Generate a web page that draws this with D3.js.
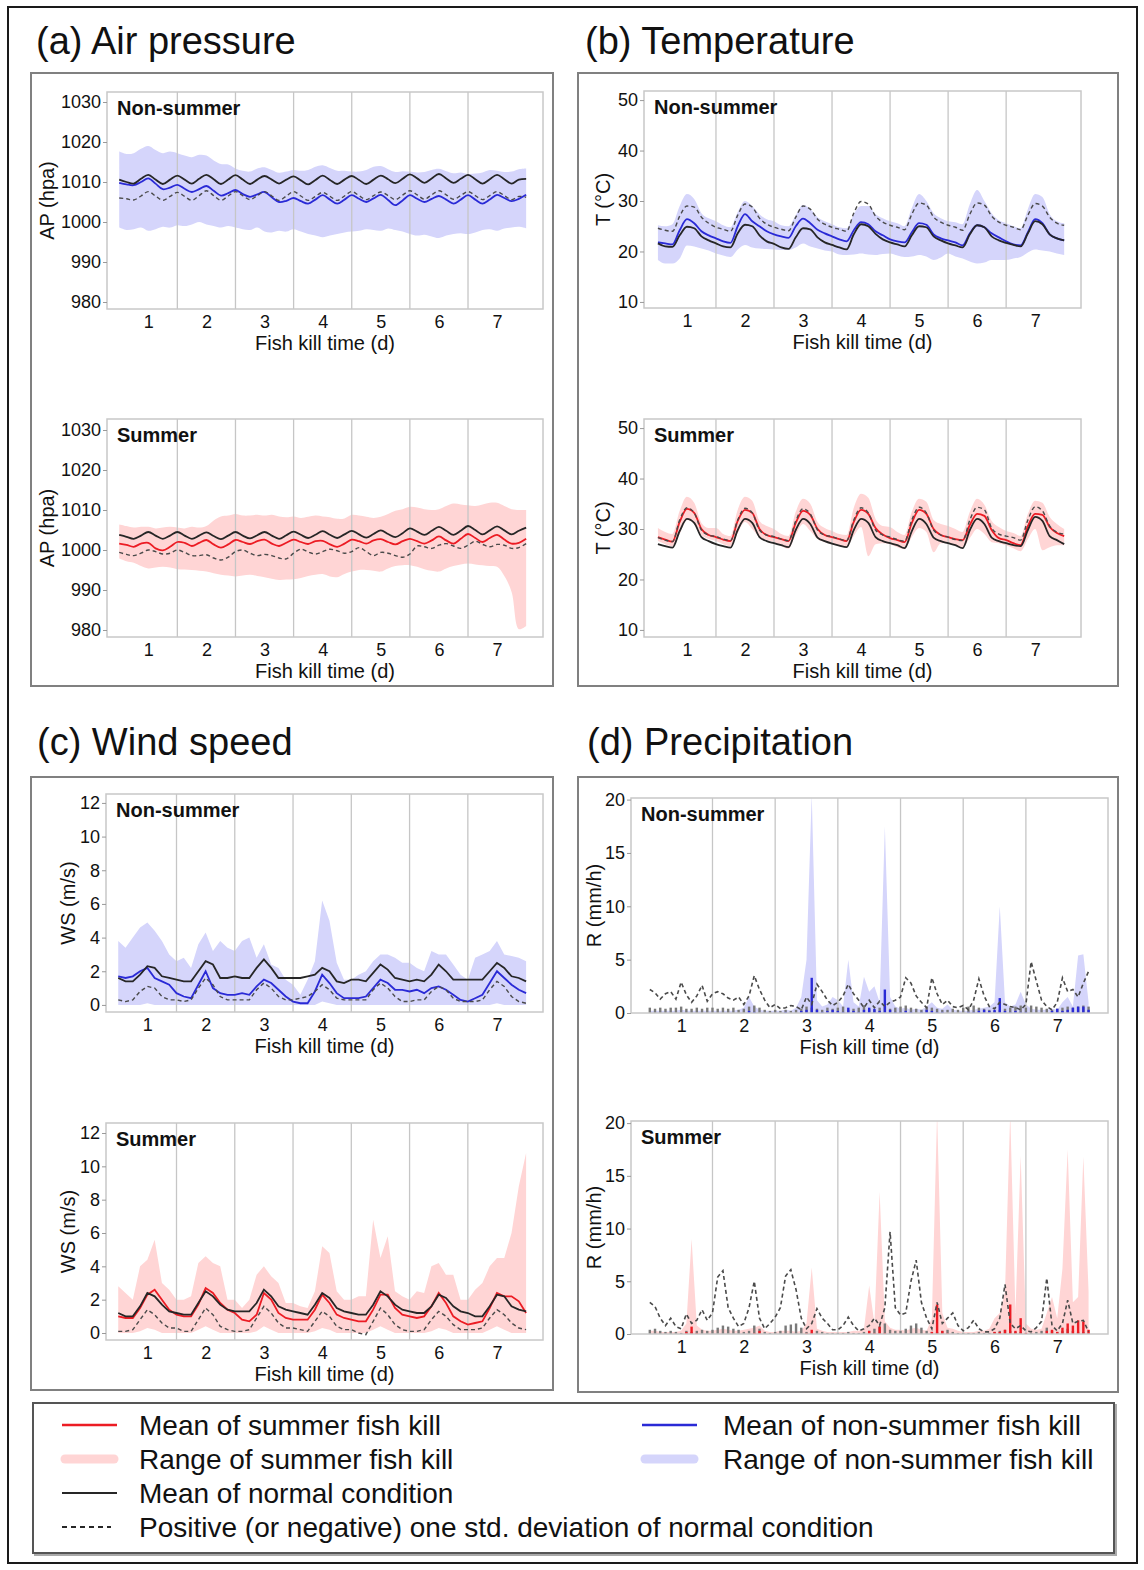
<!DOCTYPE html>
<html>
<head>
<meta charset="utf-8">
<script src="https://cdn.jsdelivr.net/npm/d3@7"></script>
<style>
  body { margin: 0; background: #fff; }
  svg { display: block; font-family: "Liberation Sans", Arial, sans-serif; }
</style>
</head>
<body>
<svg id="fig" width="1144" height="1570"></svg>
<script>
// ---- axis values ----
const dayTicks = [1, 2, 3, 4, 5, 6, 7];
const dayBounds = [1.5, 2.5, 3.5, 4.5, 5.5, 6.5];
const apTicks = [980, 990, 1000, 1010, 1020, 1030];
const tTicks = [10, 20, 30, 40, 50];
const wsTicks = [0, 2, 4, 6, 8, 10, 12];
const rTicks = [0, 5, 10, 15, 20];
const startDay = 0.5;     // first sample sits at day 0.5
const lineStep = 3;       // hours between samples (AP, T, WS)
const rainStep = 2;       // hours between samples (R)

// ---- air pressure, non-summer ----
const apNonNormal = [
  1010.6,1010.0,1009.6,1010.8,1011.8,1010.6,1009.5,1010.6,
  1011.6,1010.6,1009.6,1010.8,1011.8,1010.7,1009.5,1010.6,
  1011.7,1010.6,1009.5,1010.6,1011.5,1010.6,1009.6,1010.6,
  1011.4,1010.4,1009.4,1010.5,1011.6,1010.5,1009.5,1010.6,
  1011.5,1010.5,1009.5,1010.6,1011.6,1010.7,1009.7,1010.8,
  1011.9,1010.9,1009.8,1010.9,1012.0,1010.9,1009.8,1010.8,
  1011.8,1010.7,1009.6,1010.7,1011.8,1010.7,1009.6,1010.6,
  1010.8];
const apNonMean = [
  1009.8,1009.4,1009.2,1010.0,1010.9,1009.6,1008.2,1008.6,
  1009.3,1008.3,1007.5,1008.2,1009.0,1007.8,1006.6,1007.2,
  1008.0,1007.0,1006.3,1006.9,1007.5,1006.2,1005.0,1005.3,
  1006.0,1005.2,1004.6,1005.6,1006.7,1005.6,1004.6,1005.6,
  1006.7,1005.8,1005.0,1005.9,1006.8,1005.5,1004.2,1005.4,
  1006.7,1005.8,1005.0,1005.8,1006.5,1005.6,1004.6,1005.6,
  1006.7,1005.6,1004.6,1005.6,1006.8,1006.0,1005.2,1005.8,
  1006.8];
const apNonStd = [
  1006.0,1005.8,1005.5,1006.5,1007.6,1006.5,1005.4,1006.4,
  1007.4,1006.4,1005.4,1006.6,1007.8,1006.6,1005.4,1006.5,
  1007.6,1006.6,1005.6,1006.6,1007.6,1006.5,1005.4,1006.5,
  1007.6,1006.5,1005.4,1006.4,1007.4,1006.4,1005.4,1006.5,
  1007.6,1006.6,1005.6,1006.6,1007.5,1006.6,1005.6,1006.7,
  1007.8,1006.8,1005.7,1006.8,1007.8,1006.8,1005.7,1006.6,
  1007.6,1006.6,1005.6,1006.6,1007.6,1006.6,1005.6,1006.4,
  1006.2];
const apNonMax = [
  1017.6,1017.0,1017.2,1018.3,1019.0,1018.0,1017.2,1017.6,
  1017.2,1016.6,1016.2,1016.8,1016.6,1015.4,1014.5,1014.4,
  1013.4,1012.8,1012.6,1013.4,1013.7,1013.0,1012.3,1012.6,
  1013.0,1012.8,1013.0,1013.8,1014.2,1013.5,1012.8,1012.8,
  1012.6,1012.6,1013.0,1013.8,1014.0,1013.2,1012.5,1012.7,
  1012.6,1012.4,1012.5,1013.0,1013.3,1012.7,1012.2,1012.4,
  1012.0,1012.1,1012.4,1013.0,1012.8,1012.5,1012.6,1013.2,
  1013.4];
const apNonMin = [
  998.6,998.0,998.2,998.6,997.8,998.2,998.8,998.6,
  999.2,999.0,999.4,1000.0,999.4,999.0,998.6,999.0,
  998.6,998.2,998.0,998.6,997.6,997.4,997.8,997.6,
  998.2,997.6,997.0,996.6,996.2,996.6,997.0,997.4,
  997.6,997.8,998.2,998.0,997.8,998.4,998.0,997.6,
  997.0,996.6,996.8,996.4,996.0,996.6,997.0,997.2,
  997.0,997.4,998.0,998.2,997.8,998.4,998.6,998.8,
  998.4];

// ---- air pressure, summer ----
const apSumNormal = [
  1003.8,1003.3,1002.8,1003.6,1004.5,1003.6,1002.8,1003.6,
  1004.5,1003.6,1002.8,1003.6,1004.4,1003.5,1002.7,1003.6,
  1004.5,1003.6,1002.9,1003.7,1004.5,1003.6,1002.8,1003.7,
  1004.6,1003.8,1003.0,1003.8,1004.7,1003.8,1003.0,1003.9,
  1004.8,1003.9,1003.1,1004.0,1004.9,1004.0,1003.2,1004.2,
  1005.4,1004.6,1003.8,1004.8,1005.8,1004.8,1003.8,1004.8,
  1006.0,1005.0,1003.9,1004.9,1005.9,1004.9,1003.9,1004.8,
  1005.6];
const apSumMean = [
  1001.6,1001.3,1000.8,1001.6,1001.8,1000.4,999.9,1000.8,
  1002.0,1001.8,1001.0,1001.8,1002.5,1001.4,1000.6,1001.4,
  1002.5,1002.0,1001.5,1002.2,1002.6,1001.6,1001.0,1001.8,
  1002.6,1002.0,1001.5,1002.2,1002.3,1001.4,1000.8,1001.6,
  1002.6,1002.2,1001.6,1002.4,1002.7,1002.0,1001.4,1002.2,
  1002.8,1002.2,1001.6,1002.4,1003.4,1002.4,1001.6,1002.8,
  1004.0,1003.0,1002.0,1003.0,1003.8,1002.6,1001.6,1001.8,
  1002.8];
const apSumStd = [
  999.4,998.9,998.6,999.2,1000.0,999.6,999.0,999.2,
  1000.0,999.4,998.6,998.6,998.8,998.0,997.5,998.2,
  999.6,1000.0,999.2,998.6,998.9,998.6,998.0,997.8,
  999.2,1000.2,999.5,999.0,999.6,1000.2,999.8,999.2,
  999.6,1000.6,999.6,998.6,999.4,999.2,998.6,998.2,
  999.0,1001.0,1000.8,1000.4,1001.2,1001.6,1001.0,1000.4,
  1001.2,1002.2,1001.4,1000.8,1001.4,1001.2,1000.4,1000.6,
  1001.6];
const apSumMax = [
  1006.4,1006.0,1005.6,1005.8,1005.8,1005.4,1005.6,1005.8,
  1005.6,1005.4,1005.8,1005.6,1006.0,1007.4,1008.4,1008.6,
  1009.0,1008.6,1008.6,1008.8,1008.6,1008.8,1008.4,1008.2,
  1008.4,1008.0,1008.3,1008.6,1008.4,1008.2,1007.8,1007.9,
  1008.8,1008.6,1008.3,1008.0,1008.3,1009.0,1009.8,1010.2,
  1010.8,1010.6,1010.2,1010.0,1010.2,1011.0,1011.6,1011.4,
  1011.2,1011.0,1011.4,1011.8,1011.8,1011.0,1010.2,1010.0,
  1010.0];
const apSumMin = [
  997.9,997.2,996.8,996.0,995.4,995.6,995.8,995.6,
  995.2,995.1,995.0,994.8,994.6,994.2,993.8,993.6,
  993.4,993.6,993.8,993.5,993.2,992.8,992.5,992.6,
  992.7,993.0,993.5,993.8,994.0,993.4,993.2,994.0,
  994.6,995.0,995.0,994.8,994.6,995.4,996.0,996.2,
  996.2,995.8,995.2,994.8,994.6,995.4,996.0,996.4,
  996.6,996.4,996.2,996.0,995.8,993.5,989.5,980.2,
  981.0];

// ---- temperature, non-summer ----
const tNonNormal = [
  21.6,21.0,20.9,23.2,24.9,24.6,23.0,22.2,
  21.6,21.0,20.8,23.6,25.3,25.0,23.2,22.0,
  21.5,20.8,20.5,22.8,24.6,24.4,22.8,21.8,
  21.3,20.8,20.4,23.4,25.4,25.0,23.5,22.4,
  21.8,21.4,21.0,23.2,25.0,24.8,23.0,22.2,
  21.6,21.2,20.8,23.4,25.2,24.8,23.0,22.2,
  21.7,21.3,21.0,23.6,26.0,25.4,23.4,22.6,
  22.2];
const tNonMean = [
  21.8,21.6,21.4,24.2,26.4,25.6,24.0,23.2,
  22.6,22.0,21.7,25.0,27.4,26.0,25.0,24.0,
  23.4,23.0,22.7,25.0,26.5,25.6,24.3,23.6,
  23.0,22.4,22.0,24.2,25.8,25.4,24.0,23.2,
  22.4,22.0,21.8,23.8,25.6,25.3,23.4,22.6,
  22.2,21.8,21.2,23.6,25.2,24.8,23.6,22.8,
  22.0,21.4,21.2,23.8,26.4,25.6,23.4,22.6,
  22.2];
const tNonStd = [
  24.6,24.2,24.0,27.0,29.0,28.8,26.8,25.6,
  24.8,24.4,24.0,27.2,29.4,28.8,26.6,25.4,
  24.8,24.4,24.1,26.8,29.0,28.4,26.4,25.4,
  24.8,24.4,24.0,27.6,29.9,29.4,27.0,25.8,
  25.2,24.8,24.3,27.4,29.6,29.2,26.8,25.8,
  25.2,24.8,24.2,27.4,29.6,29.2,27.0,25.8,
  25.2,24.8,24.3,27.2,29.5,29.0,26.8,25.6,
  25.2];
const tNonMax = [
  25.2,25.0,25.4,29.0,31.4,30.4,27.6,26.6,
  26.0,25.2,24.8,27.8,30.0,29.0,27.4,26.4,
  26.0,25.2,25.0,27.2,29.2,28.4,26.8,26.0,
  25.4,24.8,24.6,27.4,29.0,29.0,27.4,26.6,
  26.0,25.6,25.0,28.6,31.4,30.0,27.6,26.6,
  26.0,25.8,25.4,29.4,32.2,30.0,27.6,26.2,
  25.6,25.0,24.6,28.4,31.4,30.8,27.4,26.0,
  25.6];
const tNonMin = [
  18.3,17.6,17.6,18.6,21.2,21.0,20.6,20.2,
  19.6,19.2,18.9,20.4,21.3,20.8,20.6,20.5,
  20.4,20.3,20.3,20.8,21.6,21.0,20.6,20.2,
  20.0,19.4,19.3,19.4,19.6,19.4,19.3,19.5,
  19.6,19.2,18.9,19.0,19.3,19.0,18.3,18.8,
  19.6,19.0,18.6,18.0,17.6,17.8,18.3,18.3,
  18.3,18.6,18.9,19.8,20.4,20.2,20.0,19.6,
  19.3];

// ---- temperature, summer ----
const tSumNormal = [
  27.0,26.6,26.3,29.6,32.0,31.2,28.4,27.6,
  27.0,26.6,26.3,29.8,32.0,31.2,28.4,27.6,
  27.2,26.8,26.4,29.8,32.0,31.0,28.3,27.6,
  27.1,26.7,26.4,29.8,32.0,31.2,28.4,27.6,
  27.2,26.8,26.2,29.6,32.0,31.0,28.3,27.6,
  27.2,26.8,26.2,29.8,32.0,31.0,28.3,27.6,
  27.2,26.8,26.6,29.8,32.4,31.6,28.6,27.8,
  27.0];
const tSumMean = [
  28.4,27.9,27.5,31.4,34.0,33.2,30.0,28.8,
  28.4,27.9,27.6,31.6,33.8,33.2,30.0,28.8,
  28.4,28.0,27.6,31.2,33.6,32.8,30.0,28.8,
  28.4,28.0,27.6,31.4,33.8,33.0,30.2,28.9,
  28.2,27.8,27.4,31.2,33.8,33.0,30.0,28.8,
  28.4,28.0,27.8,30.8,33.0,32.6,29.8,28.2,
  27.8,27.2,26.8,30.6,33.0,32.8,30.4,29.2,
  28.6];
const tSumStd = [
  28.3,27.8,27.5,31.8,34.2,33.2,29.8,28.8,
  28.5,28.0,27.7,31.8,34.1,33.2,29.8,28.8,
  28.5,28.0,27.7,31.6,34.0,33.0,29.8,28.8,
  28.5,28.0,27.7,31.8,34.2,33.2,29.8,28.8,
  28.4,27.9,27.6,31.8,34.3,33.2,29.8,28.8,
  28.4,27.9,27.7,31.8,34.3,33.8,30.2,29.0,
  28.6,28.3,27.8,31.8,34.4,33.6,30.6,29.4,
  29.0];
const tSumMax = [
  30.2,29.4,29.0,33.6,36.4,35.2,31.2,30.2,
  30.2,29.0,28.6,33.8,36.4,35.6,31.6,30.6,
  30.0,29.0,28.6,33.4,36.0,35.0,31.4,30.2,
  29.6,29.0,28.8,34.2,37.0,36.2,32.0,30.6,
  30.4,29.4,28.8,33.4,36.0,35.4,31.8,31.0,
  30.6,30.0,29.4,33.4,36.0,34.8,31.6,30.4,
  29.6,29.2,28.6,33.0,35.6,35.2,32.4,31.0,
  30.0];
const tSumMin = [
  27.6,27.0,26.6,29.0,31.8,31.0,28.8,28.0,
  27.6,27.0,26.6,29.2,31.4,30.0,28.4,27.8,
  27.4,26.6,26.1,28.8,31.0,29.6,28.0,27.4,
  27.0,26.6,26.4,28.6,30.4,24.6,27.0,27.2,
  27.0,26.4,26.0,28.4,30.2,29.4,25.4,27.2,
  27.2,26.8,26.4,28.2,30.0,29.0,27.4,27.2,
  26.8,26.2,25.6,28.0,30.0,25.8,26.4,26.8,
  26.8];

// ---- wind speed, non-summer ----
const wsNonNormal = [
  1.6,1.4,1.4,1.8,2.3,2.2,1.7,1.6,
  1.5,1.4,1.4,2.0,2.6,2.4,1.6,1.6,
  1.7,1.6,1.6,2.2,2.7,2.2,1.6,1.6,
  1.6,1.6,1.7,1.8,2.2,2.0,1.4,1.3,
  1.5,1.5,1.4,1.9,2.4,2.1,1.6,1.5,
  1.4,1.5,1.4,1.8,2.4,2.0,1.5,1.5,
  1.5,1.5,1.5,2.0,2.5,2.2,1.7,1.6,
  1.4];
const wsNonMean = [
  1.7,1.6,1.7,2.0,2.2,1.6,1.4,1.2,
  0.7,0.5,0.4,1.2,2.0,1.0,0.7,0.6,
  0.6,0.7,0.6,1.1,1.5,1.3,0.9,0.5,
  0.2,0.1,0.1,0.8,1.8,1.3,0.7,0.4,
  0.4,0.4,0.5,1.0,1.5,1.3,0.9,0.9,
  0.8,0.9,0.7,1.0,1.1,0.9,0.6,0.3,
  0.2,0.4,0.6,1.3,2.0,1.6,1.2,0.9,
  0.7];
const wsNonStd = [
  0.3,0.2,0.3,0.8,1.1,1.0,0.5,0.3,
  0.3,0.2,0.3,1.0,1.6,1.2,0.5,0.3,
  0.3,0.3,0.3,0.9,1.3,1.0,0.5,0.3,
  0.3,0.4,0.5,0.8,1.2,0.9,0.4,0.3,
  0.3,0.3,0.3,0.9,1.3,1.0,0.5,0.2,
  0.2,0.3,0.3,0.8,1.1,0.9,0.4,0.2,
  0.2,0.2,0.3,0.9,1.4,1.1,0.5,0.2,
  0.1];
const wsNonMax = [
  3.8,3.4,4.0,4.6,4.9,4.4,3.8,3.0,
  2.6,2.8,2.2,3.6,4.3,3.2,3.8,3.4,
  3.2,3.8,4.0,2.8,3.6,2.4,2.2,1.5,
  1.2,0.6,1.5,2.6,6.2,5.0,2.5,1.5,
  1.5,1.8,2.0,2.6,3.0,3.0,2.8,2.5,
  2.5,2.2,2.0,3.2,3.0,3.0,2.4,1.8,
  1.5,2.8,3.0,3.2,3.8,3.0,2.9,2.8,
  2.6];
const wsNonMin = [
  0,0,0,0,0.1,0,0,0,
  0,0,0,0,0,0,0,0,
  0,0,0,0,0,0,0,0,
  0,0,0,0,0.2,0.1,0,0,
  0,0,0,0,0,0,0,0,
  0,0,0,0,0,0,0,0,
  0,0,0,0,0.1,0,0,0,
  0];

// ---- wind speed, summer ----
const wsSumNormal = [
  1.2,1.0,1.0,1.6,2.4,2.2,1.7,1.3,
  1.2,1.1,1.1,1.8,2.5,2.2,1.7,1.4,
  1.3,1.3,1.3,1.8,2.6,2.2,1.6,1.4,
  1.3,1.2,1.1,1.7,2.4,2.1,1.5,1.3,
  1.2,1.1,1.1,1.7,2.5,2.2,1.7,1.4,
  1.3,1.2,1.2,1.6,2.3,2.1,1.6,1.3,
  1.2,1.0,1.0,1.6,2.3,2.2,1.6,1.4,
  1.3];
const wsSumMean = [
  1.0,0.9,0.9,1.5,2.3,2.6,2.0,1.4,
  1.1,1.0,1.0,1.7,2.7,2.4,1.8,1.4,
  1.2,0.8,0.7,1.1,2.4,2.0,1.2,0.9,
  0.8,0.8,0.8,1.4,2.3,1.8,1.1,0.9,
  0.8,0.7,0.7,1.4,2.3,2.3,1.5,1.1,
  1.0,0.9,1.0,1.6,2.4,1.8,1.0,0.7,
  0.5,0.6,0.7,1.5,2.4,2.2,2.2,1.9,
  1.2];
const wsSumStd = [
  0.1,0.1,0.2,0.8,1.4,1.1,0.6,0.3,
  0.3,0.1,0.1,0.8,1.5,1.1,0.4,0.2,
  0.1,0.1,0.2,0.9,1.6,1.2,0.6,0.3,
  0.3,0.2,0.1,0.7,1.3,1.0,0.4,0.2,
  0.2,0.0,-0.1,0.7,1.5,1.1,0.5,0.2,
  0.1,0.1,0.2,0.8,1.3,1.0,0.5,0.2,
  0.2,0.2,0.3,0.9,1.4,1.1,0.6,0.3,
  0.2];
const wsSumMax = [
  2.8,2.4,2.0,4.0,4.4,5.6,3.0,2.6,
  2.0,2.0,2.2,4.2,4.6,4.2,4.0,2.0,
  2.0,1.5,2.0,3.5,4.0,3.4,3.0,1.8,
  1.8,1.6,1.5,2.5,5.2,4.8,2.5,2.0,
  2.0,2.2,2.2,6.8,4.5,5.8,2.5,2.2,
  2.0,2.5,2.4,4.0,4.2,3.5,3.5,2.0,
  2.0,2.6,3.0,4.0,4.5,4.5,6.0,8.8,
  10.8];
const wsSumMin = [
  0,0,0,0.1,0.3,0.2,0,0,
  0,0,0,0.2,0.4,0.2,0,0,
  0,0,0,0.1,0.4,0.2,0,0,
  0,0,0,0.1,0.3,0.2,0,0,
  0,0,0,0.2,0.4,0.2,0,0,
  0,0,0,0.1,0.3,0.2,0,0,
  0,0,0,0.2,0.4,0.2,0,0,
  0];

// ---- precipitation, non-summer (2-hourly) ----
const rNonMax = [
  0.2,0.2,0.2,0.2,0.2,0.2,0.3,0.2,0.2,0.2,0.2,0.2,
  0.2,0.2,0.2,0.2,0.2,0.3,0.5,1.5,0.6,0.3,0.2,0.2,
  0.2,0.2,0.3,0.2,0.5,1.5,5.0,20.5,1.2,0.6,0.8,1.5,
  1.2,0.6,5.0,1.0,0.6,3.4,2.0,2.5,1.0,17.5,1.5,0.6,
  0.4,0.5,0.3,0.4,0.3,0.6,1.0,0.5,0.4,0.8,0.3,0.2,
  0.2,0.2,0.3,0.4,0.5,0.6,1.0,10.0,1.0,0.6,0.8,2.0,
  0.8,0.4,0.3,0.3,0.3,0.4,0.3,1.0,1.5,0.6,5.4,5.5,
  1.0];
const rNonStd = [
  2.2,1.9,1.3,1.8,2.0,1.3,2.9,1.7,1.0,1.6,2.6,1.1,
  1.8,2.0,1.8,1.4,1.2,1.5,0.8,1.6,3.5,2.2,1.2,0.5,
  0.8,0.4,0.5,0.7,0.6,0.3,1.5,0.8,2.7,2.0,1.2,0.7,
  1.0,1.6,2.7,1.8,1.2,0.5,1.2,0.5,1.1,0.6,1.0,1.2,
  1.5,3.3,2.8,1.6,1.0,0.5,3.3,1.8,0.8,1.2,0.6,0.5,
  0.7,0.3,1.2,3.2,1.6,0.6,0.4,1.0,0.8,0.6,0.5,0.3,
  0.8,4.8,3.0,1.2,0.6,0.3,1.0,3.3,2.0,2.2,1.5,2.8,
  3.9];
const rNonNormal = [
  0.5,0.4,0.5,0.4,0.5,0.5,0.6,0.4,0.4,0.5,0.4,0.5,
  0.5,0.4,0.5,0.4,0.5,0.3,0.4,0.6,0.7,0.5,0.3,0.2,
  0.3,0.2,0.3,0.2,0.3,0.4,0.6,0.5,0.4,0.3,0.5,0.4,
  0.5,0.6,0.3,0.4,0.5,0.7,0.4,0.3,0.5,0.6,0.4,0.5,
  0.6,0.7,0.5,0.4,0.3,0.6,0.5,0.4,0.3,0.3,0.4,0.3,
  0.5,0.6,0.7,0.5,0.4,0.3,0.2,0.3,0.4,0.5,0.6,0.7,
  0.5,0.7,0.6,0.5,0.4,0.3,0.4,0.5,0.6,0.5,0.6,0.7,
  0.6];
const rNonMean = [
  0,0,0,0,0,0,0,0,0,0,0,0,
  0,0,0,0,0,0,0,0.2,0.1,0,0,0,
  0,0,0.1,0,0,0.2,0.3,3.3,0.3,0.1,0.2,0.3,
  0.2,0.1,0.5,0.2,0.1,0.3,0.5,0.4,0.2,2.2,0.3,0.1,
  0.1,0.2,0.1,0,0.1,0.3,0.2,0.1,0.1,0,0,0,
  0,0.1,0.1,0.2,0.3,0.2,0.3,1.4,0.2,0.1,0.2,0.1,
  0.1,0,0,0,0,0.2,0.4,0.2,0.3,0.5,0.6,0.6,
  0.3];

// ---- precipitation, summer (2-hourly) ----
const rSumMax = [
  0.3,0.3,0.2,0.2,0.2,0.2,0.3,1.0,9.0,0.8,0.4,0.3,
  0.3,0.4,0.5,0.4,0.3,0.3,0.4,0.5,0.6,0.8,0.3,0.2,
  0.2,0.3,0.3,0.3,0.2,0.3,1.0,6.3,0.5,0.3,0.2,0.2,
  0.2,0.2,0.2,0.3,0.3,0.5,4.6,1.0,13.5,1.2,0.6,0.4,
  0.4,0.3,0.5,0.6,0.4,0.3,1.5,21.0,2.0,0.6,0.5,0.3,
  0.2,0.2,0.2,0.3,0.3,0.5,1.5,2.0,4.0,21.0,2.0,16.9,
  1.0,0.5,0.4,0.5,2.0,3.5,1.5,6.2,17.5,3.0,3.5,16.8,
  4.0];
const rSumStd = [
  3.0,2.6,1.5,0.8,1.5,0.7,0.5,1.9,1.0,1.3,2.3,1.3,
  2.0,5.4,6.0,2.5,1.5,0.7,1.0,2.5,5.0,1.5,0.5,1.0,
  1.6,2.5,5.5,6.1,4.2,1.5,0.5,1.0,2.4,1.5,1.0,0.4,
  0.4,0.8,1.6,0.8,0.3,0.5,0.8,1.5,0.8,2.5,9.7,2.5,
  1.8,2.0,5.0,7.0,3.0,1.5,0.5,3.0,1.0,1.5,2.0,0.8,
  0.3,0.6,1.3,0.5,0.2,0.2,0.5,1.5,4.7,1.0,0.5,0.8,
  0.3,0.2,0.6,1.2,5.3,0.8,0.3,1.0,3.2,1.0,1.2,1.3,
  0.2];
const rSumNormal = [
  0.4,0.5,0.3,0.2,0.3,0.2,0.1,0.3,0.2,0.3,0.4,0.3,
  0.4,0.6,0.8,0.7,0.5,0.4,0.2,0.3,0.8,0.5,0.2,0.1,
  0.2,0.3,0.8,0.9,1.0,0.6,0.2,0.1,0.3,0.2,0.1,0.1,
  0.1,0.1,0.2,0.1,0.1,0.2,0.3,0.5,0.7,1.0,0.4,0.3,
  0.3,0.5,0.8,1.0,0.6,0.3,0.2,0.2,0.3,0.4,0.2,0.1,
  0.1,0.1,0.1,0.2,0.1,0.1,0.2,0.3,0.4,0.3,0.2,0.2,
  0.1,0.1,0.2,0.3,0.6,0.3,0.2,0.3,0.5,0.3,0.2,0.2,
  0.1];
const rSumMean = [
  0,0,0,0,0,0,0,0.2,0.7,0.1,0,0,
  0,0,0,0,0,0,0,0,0.1,0.3,0,0,
  0,0,0,0,0,0,0.1,0.4,0,0,0,0,
  0,0,0,0,0,0,0.3,0.1,0.7,0.1,0,0,
  0,0,0,0,0,0,0.2,2.8,0.3,0.1,0,0,
  0,0,0,0,0,0,0.2,0.2,0.4,2.8,0.3,1.5,
  0.1,0,0,0,0.3,0.4,0.2,0.6,1.0,0.8,1.3,1.2,
  0.4];

// ---- styling ----
const seasonStyle = {
  non: { line: "#2a2ad6", band: "#d5d5fb" },
  sum: { line: "#ec1c24", band: "#ffd5d5" }
};
const normalColor = "#262626";
const stdColor = "#4a4a4a";
const curves = {
  wave: d3.curveCatmullRom.alpha(0.5),
  smooth: d3.curveMonotoneX,
  raw: d3.curveLinear
};

const svg = d3.select("#fig");

// outer frame and the four panel boxes
svg.append("rect")
  .attr("x", 8).attr("y", 7).attr("width", 1129).attr("height", 1556)
  .attr("fill", "none").attr("stroke", "#1a1a1a").attr("stroke-width", 2);

const boxes = [
  { x: 31, y: 73, w: 522, h: 613 },
  { x: 578, y: 73, w: 540, h: 613 },
  { x: 31, y: 777, w: 522, h: 613 },
  { x: 578, y: 777, w: 540, h: 615 }
];
svg.selectAll(".panel-box").data(boxes).join("rect")
  .attr("class", "panel-box")
  .attr("x", d => d.x).attr("y", d => d.y)
  .attr("width", d => d.w).attr("height", d => d.h)
  .attr("fill", "none").attr("stroke", "#808080").attr("stroke-width", 2);

const titles = [
  { text: "(a) Air pressure", x: 36, y: 54 },
  { text: "(b) Temperature", x: 585, y: 54 },
  { text: "(c) Wind speed", x: 37, y: 755 },
  { text: "(d) Precipitation", x: 587, y: 755 }
];
svg.selectAll(".panel-title").data(titles).join("text")
  .attr("class", "panel-title")
  .attr("x", d => d.x).attr("y", d => d.y)
  .attr("font-size", 38).attr("fill", "#111")
  .text(d => d.text);

const panels = [
  { id: "a1", left: 107, top: 92, width: 436, height: 217, xDomain: [0.29, 7.79], yDomain: [978.25, 1032.5],
    yTicks: apTicks, yTitle: "AP (hpa)", yTitleDx: -60, tag: "Non-summer", season: "non", kind: "line", curve: "wave",
    mean: apNonMean, normal: apNonNormal, std: apNonStd, lo: apNonMin, hi: apNonMax },
  { id: "a2", left: 107, top: 419, width: 436, height: 218, xDomain: [0.29, 7.79], yDomain: [978.25, 1032.75],
    yTicks: apTicks, yTitle: "AP (hpa)", yTitleDx: -60, tag: "Summer", season: "sum", kind: "line", curve: "wave",
    mean: apSumMean, normal: apSumNormal, std: apSumStd, lo: apSumMin, hi: apSumMax },
  { id: "b1", left: 644, top: 91, width: 437, height: 217, xDomain: [0.26, 7.79], yDomain: [8.8, 51.8],
    yTicks: tTicks, yTitle: "T (°C)", yTitleDx: -41, tag: "Non-summer", season: "non", kind: "line", curve: "smooth",
    mean: tNonMean, normal: tNonNormal, std: tNonStd, lo: tNonMin, hi: tNonMax },
  { id: "b2", left: 644, top: 419, width: 437, height: 218, xDomain: [0.26, 7.79], yDomain: [8.6, 51.8],
    yTicks: tTicks, yTitle: "T (°C)", yTitleDx: -41, tag: "Summer", season: "sum", kind: "line", curve: "smooth",
    mean: tSumMean, normal: tSumNormal, std: tSumStd, lo: tSumMin, hi: tSumMax },
  { id: "c1", left: 106, top: 794, width: 437, height: 218, xDomain: [0.29, 7.79], yDomain: [-0.42, 12.53],
    yTicks: wsTicks, yTitle: "WS (m/s)", yTitleDx: -38, tag: "Non-summer", season: "non", kind: "line", curve: "raw",
    mean: wsNonMean, normal: wsNonNormal, std: wsNonStd, lo: wsNonMin, hi: wsNonMax },
  { id: "c2", left: 106, top: 1123, width: 437, height: 217, xDomain: [0.29, 7.79], yDomain: [-0.42, 12.6],
    yTicks: wsTicks, yTitle: "WS (m/s)", yTitleDx: -38, tag: "Summer", season: "sum", kind: "line", curve: "raw",
    mean: wsSumMean, normal: wsSumNormal, std: wsSumStd, lo: wsSumMin, hi: wsSumMax },
  { id: "d1", left: 631, top: 798, width: 477, height: 215, xDomain: [0.2, 7.81], yDomain: [0, 20.15],
    yTicks: rTicks, yTitle: "R (mm/h)", yTitleDx: -37, tag: "Non-summer", season: "non", kind: "rain", curve: "raw",
    mean: rNonMean, normal: rNonNormal, std: rNonStd, hi: rNonMax },
  { id: "d2", left: 631, top: 1121, width: 477, height: 213, xDomain: [0.2, 7.81], yDomain: [0, 20.2],
    yTicks: rTicks, yTitle: "R (mm/h)", yTitleDx: -37, tag: "Summer", season: "sum", kind: "rain", curve: "raw",
    mean: rSumMean, normal: rSumNormal, std: rSumStd, hi: rSumMax }
];

function drawPanel(p) {
  const g = svg.append("g").attr("transform", `translate(${p.left},${p.top})`);
  const x = d3.scaleLinear().domain(p.xDomain).range([0, p.width]);
  const y = d3.scaleLinear().domain(p.yDomain).range([p.height, 0]);
  const style = seasonStyle[p.season];
  const step = p.kind === "rain" ? rainStep : lineStep;
  const xAt = i => x(startDay + i * step / 24);
  const curve = curves[p.curve];

  const clipId = "clip-" + p.id;
  g.append("clipPath").attr("id", clipId)
    .append("rect").attr("width", p.width).attr("height", p.height);
  const plot = g.append("g").attr("clip-path", `url(#${clipId})`);

  // range of fish kill
  const band = d3.area()
    .x((d, i) => xAt(i))
    .y0((d, i) => y(p.lo ? p.lo[i] : 0))
    .y1(d => y(d))
    .curve(curve);
  plot.append("path").attr("d", band(p.hi)).attr("fill", style.band);

  // day separators
  plot.selectAll(".day-line").data(dayBounds).join("line")
    .attr("class", "day-line")
    .attr("x1", d => x(d)).attr("x2", d => x(d))
    .attr("y1", 0).attr("y2", p.height)
    .attr("stroke", "#c6c6c6").attr("stroke-width", 1.3);

  const line = d3.line().x((d, i) => xAt(i)).y(d => y(d)).curve(curve);

  if (p.kind === "rain") {
    plot.selectAll(".normal-bar").data(p.normal).join("rect")
      .attr("class", "normal-bar")
      .attr("x", (d, i) => xAt(i) - 1.2).attr("width", 2.4)
      .attr("y", d => y(d)).attr("height", d => y(0) - y(d))
      .attr("fill", "#7a7a7a");
    plot.selectAll(".mean-bar").data(p.mean).join("rect")
      .attr("class", "mean-bar")
      .attr("x", (d, i) => xAt(i) - 1.2).attr("width", 2.4)
      .attr("y", d => y(d)).attr("height", d => y(0) - y(d))
      .attr("fill", style.line);
  } else {
    plot.append("path").attr("d", line(p.mean))
      .attr("fill", "none").attr("stroke", style.line).attr("stroke-width", 1.8);
    plot.append("path").attr("d", line(p.normal))
      .attr("fill", "none").attr("stroke", normalColor).attr("stroke-width", 1.8);
  }
  plot.append("path").attr("d", line(p.std))
    .attr("fill", "none").attr("stroke", stdColor)
    .attr("stroke-width", p.kind === "rain" ? 1.6 : 1.4)
    .attr("stroke-dasharray", "4,3");

  // plot frame
  g.append("rect").attr("width", p.width).attr("height", p.height)
    .attr("fill", "none").attr("stroke", "#c8c8c8").attr("stroke-width", 1.5);

  // axes
  const xAxisG = g.append("g").attr("transform", `translate(0,${p.height})`)
    .call(d3.axisBottom(x).tickValues(dayTicks).tickSize(0).tickPadding(6).tickFormat(d3.format("d")));
  xAxisG.select(".domain").remove();
  xAxisG.attr("font-family", null).attr("font-size", 18);
  xAxisG.selectAll("text").attr("fill", "#111");

  const yAxisG = g.append("g")
    .call(d3.axisLeft(y).tickValues(p.yTicks).tickSize(4).tickPadding(2).tickFormat(d3.format("d")));
  yAxisG.select(".domain").remove();
  yAxisG.attr("font-family", null).attr("font-size", 18);
  yAxisG.selectAll("text").attr("fill", "#111");
  yAxisG.selectAll("line").attr("stroke", "#999");

  // titles
  g.append("text")
    .attr("x", p.width / 2).attr("y", p.height + 41)
    .attr("text-anchor", "middle").attr("font-size", 20).attr("fill", "#111")
    .text("Fish kill time (d)");
  g.append("text")
    .attr("transform", `translate(${p.yTitleDx},${p.height / 2}) rotate(-90)`)
    .attr("text-anchor", "middle").attr("dy", "0.35em")
    .attr("font-size", 20).attr("fill", "#111")
    .text(p.yTitle);
  g.append("text")
    .attr("x", 10).attr("y", 23)
    .attr("font-size", 20).attr("font-weight", "bold").attr("fill", "#111")
    .text(p.tag);
}

panels.forEach(drawPanel);

// ---- legend ----
svg.append("rect")
  .attr("x", 35).attr("y", 1405).attr("width", 1081).attr("height", 150)
  .attr("fill", "none").attr("stroke", "#aaa").attr("stroke-width", 2);
svg.append("rect")
  .attr("x", 33).attr("y", 1403).attr("width", 1081).attr("height", 150)
  .attr("fill", "#fff").attr("stroke", "#555").attr("stroke-width", 2);

const legendItems = [
  { label: "Mean of summer fish kill", col: 0, row: 0, stroke: seasonStyle.sum.line, width: 2.5 },
  { label: "Mean of non-summer fish kill", col: 1, row: 0, stroke: seasonStyle.non.line, width: 2.5 },
  { label: "Range of summer fish kill", col: 0, row: 1, stroke: seasonStyle.sum.band, width: 9, cap: "round" },
  { label: "Range of non-summer fish kill", col: 1, row: 1, stroke: seasonStyle.non.band, width: 9, cap: "round" },
  { label: "Mean of normal condition", col: 0, row: 2, stroke: normalColor, width: 2 },
  { label: "Positive (or negative) one std. deviation of normal condition", col: 0, row: 3, stroke: normalColor, width: 2, dash: "5,4" }
];
const legendCols = [{ x0: 62, x1: 117, tx: 139 }, { x0: 642, x1: 697, tx: 723 }];
const legendRowY = [1425, 1459, 1493, 1527];

const items = svg.selectAll(".legend-item").data(legendItems).join("g").attr("class", "legend-item");
items.append("line")
  .attr("x1", d => legendCols[d.col].x0 + (d.cap ? 3 : 0))
  .attr("x2", d => legendCols[d.col].x1 - (d.cap ? 3 : 0) - (d.dash ? 6 : 0))
  .attr("y1", d => legendRowY[d.row]).attr("y2", d => legendRowY[d.row])
  .attr("stroke", d => d.stroke).attr("stroke-width", d => d.width)
  .attr("stroke-linecap", d => d.cap || "butt")
  .attr("stroke-dasharray", d => d.dash || null);
items.append("text")
  .attr("x", d => legendCols[d.col].tx).attr("y", d => legendRowY[d.row] + 10)
  .attr("font-size", 28).attr("fill", "#111")
  .text(d => d.label);
</script>
</body>
</html>
